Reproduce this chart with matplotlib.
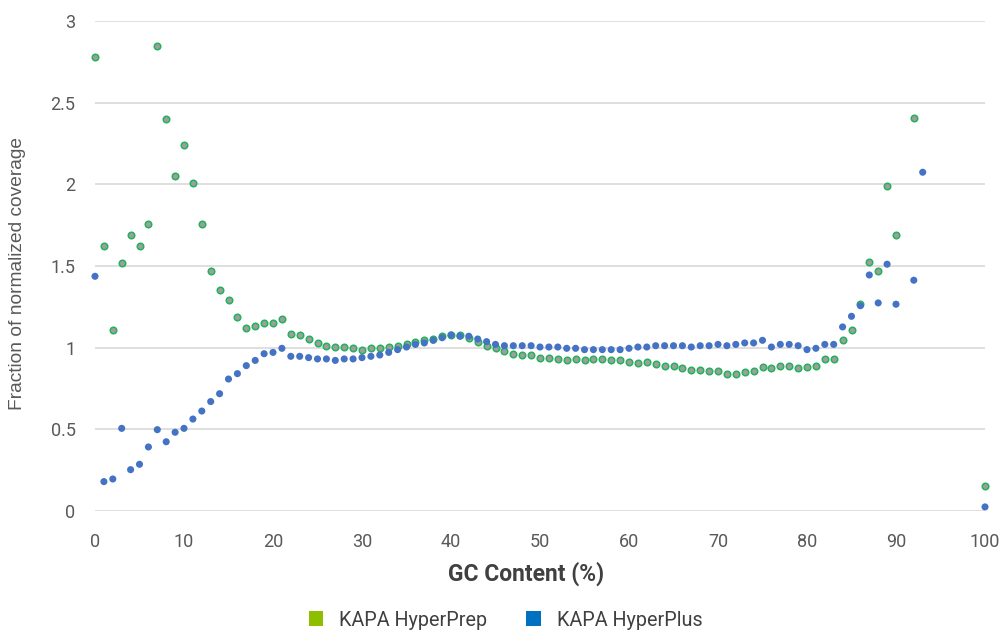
import matplotlib
matplotlib.use("Agg")
import matplotlib.pyplot as plt
from matplotlib.patches import Patch
from matplotlib import font_manager

gc_prep = list(range(0, 91)) + [92, 100]
hyperprep = [
    2.78, 1.62, 1.11, 1.52, 1.69, 1.62, 1.76, 2.85, 2.40, 2.05,
    2.24, 2.01, 1.76, 1.47, 1.355, 1.29, 1.19, 1.12, 1.13, 1.15,
    1.15, 1.176, 1.086, 1.078, 1.053, 1.029, 1.012, 1.004, 1.004, 0.996,
    0.988, 0.996, 0.996, 1.004, 1.012, 1.02, 1.037, 1.045, 1.053, 1.07,
    1.078, 1.078, 1.061, 1.037, 1.012, 0.996, 0.98, 0.963, 0.955, 0.955,
    0.939, 0.939, 0.931, 0.922, 0.931, 0.922, 0.931, 0.931, 0.922, 0.922,
    0.914, 0.906, 0.914, 0.898, 0.89, 0.89, 0.874, 0.865, 0.865, 0.857,
    0.857, 0.841, 0.841, 0.849, 0.857, 0.882, 0.874, 0.89, 0.89, 0.874,
    0.882, 0.89, 0.931, 0.931, 1.045, 1.11, 1.266, 1.527, 1.47, 1.992,
    1.69, 2.409, 0.153,
]

gc_plus = list(range(0, 91)) + [92, 93, 100]
hyperplus = [
    1.437, 0.18, 0.196, 0.506, 0.253, 0.286, 0.392, 0.498, 0.424, 0.482,
    0.506, 0.563, 0.612, 0.67, 0.718, 0.808, 0.841, 0.89, 0.922, 0.963,
    0.971, 0.996, 0.947, 0.947, 0.939, 0.931, 0.931, 0.922, 0.931, 0.931,
    0.939, 0.947, 0.955, 0.971, 0.988, 1.004, 1.02, 1.029, 1.045, 1.061,
    1.078, 1.07, 1.07, 1.053, 1.037, 1.02, 1.012, 1.012, 1.012, 1.012,
    1.004, 1.004, 1.004, 0.996, 0.996, 0.988, 0.988, 0.988, 0.988, 0.988,
    0.996, 1.004, 1.004, 1.012, 1.012, 1.012, 1.012, 1.004, 1.012, 1.012,
    1.02, 1.012, 1.02, 1.029, 1.029, 1.045, 1.004, 1.02, 1.02, 1.012,
    0.988, 0.996, 1.02, 1.02, 1.127, 1.192, 1.257, 1.445, 1.274, 1.511,
    1.266, 1.413, 2.074, 0.025,
]

series_labels = ["KAPA HyperPrep", "KAPA HyperPlus"]
x_ticks = list(range(0, 101, 10))
y_ticks = [0, 0.5, 1, 1.5, 2, 2.5, 3]
y_tick_labels = ["0", "0.5", "1", "1.5", "2", "2.5", "3"]

names = {f.name for f in font_manager.fontManager.ttflist}
tick_font = "Liberation Sans Narrow" if "Liberation Sans Narrow" in names else "Roboto"

fig = plt.figure(figsize=(10.02, 6.31), dpi=100)
ax = fig.add_axes([95 / 1002, 1 - 511 / 631, 890 / 1002, 490 / 631])

ax.scatter(gc_prep, hyperprep, s=22, facecolor="#9E9E9E", edgecolor="#22B35A",
           linewidths=1.1, zorder=3, clip_on=False)
ax.scatter(gc_plus, hyperplus, s=26, facecolor="#4472C4", edgecolor="none",
           zorder=4, clip_on=False)

ax.set_xlim(0, 100)
ax.set_ylim(0, 3)
ax.set_xticks(x_ticks)
ax.set_yticks(y_ticks)
ax.set_yticklabels(y_tick_labels)
for s in ax.spines.values():
    s.set_visible(False)
ax.grid(axis="y", color="#D9D9D9", linewidth=1.2)
ax.set_axisbelow(True)
ax.tick_params(axis="both", length=0, colors="#595959", labelsize=13)
ax.tick_params(axis="x", pad=16)
ax.tick_params(axis="y", pad=14)
for lab in ax.get_xticklabels() + ax.get_yticklabels():
    lab.set_fontfamily(tick_font)

ax.set_xlabel("GC Content (%)", fontsize=16.5, fontweight="bold", color="#404040",
              family=tick_font)
ax.xaxis.label.set_va("center")
ax.xaxis.set_label_coords(526 / 1002, 1 - 574 / 631, transform=fig.transFigure)

ax.set_ylabel("Fraction of normalized coverage", fontsize=13.8, color="#595959",
              family="Liberation Sans")
ax.yaxis.label.set_va("center")
ax.yaxis.label.set_ha("center")
ax.yaxis.set_label_coords(18 / 1002, 1 - 273 / 631, transform=fig.transFigure)

handles = [Patch(facecolor="#8DBE00", edgecolor="none"),
           Patch(facecolor="#0070C0", edgecolor="none")]
leg = fig.legend(handles, series_labels, loc="center",
                 ncol=2, frameon=False, prop={"family": tick_font, "size": 14.2},
                 handlelength=0.72, handleheight=0.82, handletextpad=0.82,
                 columnspacing=2.0, labelcolor="#404040")
leg.set_bbox_to_anchor((505.5 / 1002, 1 - 620 / 631), transform=fig.transFigure)

fig.savefig("out.png", dpi=100)
